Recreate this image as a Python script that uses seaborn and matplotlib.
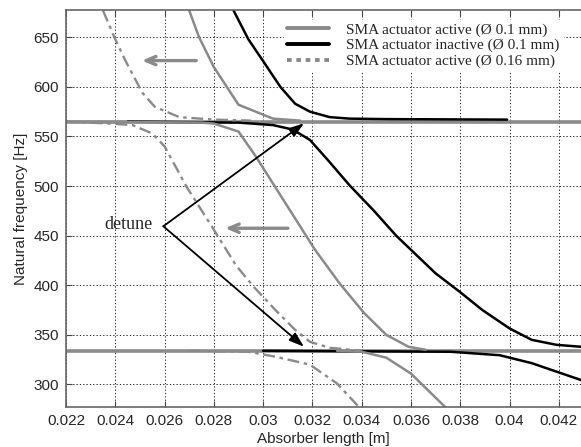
import numpy as np
import pandas as pd
import matplotlib
matplotlib.use("Agg")
import matplotlib.pyplot as plt
import seaborn as sns
from matplotlib.lines import Line2D

# absorber length [m] / natural frequency [Hz]
host_freqs = [565, 334]
host_len = [0.022, 0.0429]

# SMA actuator active, wire 0.1 mm (gray solid)
act_up_x = [0.0270, 0.0274, 0.0280, 0.0290, 0.0304, 0.0315]
act_up_y = [677, 650, 620, 582, 568, 566]
act_mid_x = [0.0220, 0.0275, 0.0280, 0.0290, 0.0297, 0.0321, 0.0331, 0.0341, 0.0350, 0.0359, 0.0366]
act_mid_y = [565, 564, 563, 555, 530, 436, 402, 372, 350, 338, 335]
act_low_x = [0.0330, 0.0340, 0.0350, 0.0360, 0.0374]
act_low_y = [334, 333, 327, 311, 277]

# SMA actuator inactive, wire 0.1 mm (black)
inact_up_x = [0.0288, 0.0294, 0.0300, 0.0307, 0.0313, 0.0319, 0.0327, 0.0335, 0.0350, 0.0399]
inact_up_y = [677, 648, 626, 600, 583, 575, 569.5, 568, 567.5, 567]
inact_mid_x = [0.0245, 0.0290, 0.0304, 0.0312, 0.0319, 0.0326, 0.0335, 0.0345, 0.0354, 0.0370,
               0.0380, 0.0389, 0.0400, 0.0409, 0.0419, 0.0429]
inact_mid_y = [565, 564, 561.5, 557, 546.5, 527, 501, 475, 450, 412, 393, 375, 356.5, 345, 340, 338]
inact_low_x = [0.0300, 0.0376, 0.0396, 0.0409, 0.0419, 0.0429]
inact_low_y = [334, 333, 329.5, 321.5, 313, 304.5]

# SMA actuator active, wire 0.16 mm (gray dash-dot)
thick_up_x = [0.0235, 0.0240, 0.0244, 0.0251, 0.0256, 0.0266, 0.0280, 0.0295]
thick_up_y = [677, 648, 627, 594, 580, 569.5, 567, 566]
thick_mid_x = [0.0220, 0.0238, 0.0247, 0.0255, 0.0260, 0.0269, 0.0279, 0.0289, 0.0296, 0.0305,
               0.0313, 0.0319, 0.0327, 0.0340]
thick_mid_y = [565, 563, 561.5, 553, 540, 499, 460, 420, 399, 375, 355, 343, 337, 334]
thick_low_x = [0.0270, 0.0294, 0.0305, 0.0319, 0.0330, 0.0339]
thick_low_y = [334, 333, 328, 320, 301, 277]

xticks = [0.022, 0.024, 0.026, 0.028, 0.03, 0.032, 0.034, 0.036, 0.038, 0.04, 0.042]
xtick_labels = ["0.022", "0.024", "0.026", "0.028", "0.03", "0.032", "0.034", "0.036", "0.038", "0.04", "0.042"]
yticks = [300, 350, 400, 450, 500, 550, 600, 650]

legend_labels = ["SMA actuator active (\u00d8 0.1 mm)",
                 "SMA actuator inactive (\u00d8 0.1 mm)",
                 "SMA actuator active (\u00d8 0.16 mm)"]

gray = "#8a8a8a"

sns.set_style("white")
plt.rcParams["font.family"] = ["Liberation Sans", "DejaVu Sans"]

fig = plt.figure(figsize=(5.81, 4.47), dpi=100)
ax = fig.add_axes([66 / 581, 40 / 447, 515 / 581, 397 / 447])

def branch(x, y, **kw):
    sns.lineplot(x=x, y=y, ax=ax, sort=False, estimator=None, legend=False, **kw)

for f in host_freqs:
    branch(host_len, [f, f], color=gray, lw=2.6)

branch(inact_up_x, inact_up_y, color="black", lw=1.8)
branch(inact_mid_x, inact_mid_y, color="black", lw=1.8)
branch(inact_low_x, inact_low_y, color="black", lw=1.8)

branch(act_up_x, act_up_y, color=gray, lw=1.8)
branch(act_mid_x, act_mid_y, color=gray, lw=1.8)
branch(act_low_x, act_low_y, color=gray, lw=1.8)

for xs, ys in [(thick_up_x, thick_up_y), (thick_mid_x, thick_mid_y), (thick_low_x, thick_low_y)]:
    branch(xs, ys, color=gray, lw=1.7, linestyle=(0, (5, 2, 1.5, 2)))

# arrows
ax.annotate("", xy=(0.02497, 626.5), xytext=(0.0274, 626.5),
            arrowprops=dict(arrowstyle="->,head_length=0.7,head_width=0.3", color=gray, lw=2.4))
ax.annotate("", xy=(0.02835, 457.5), xytext=(0.03112, 457.5),
            arrowprops=dict(arrowstyle="->,head_length=0.7,head_width=0.3", color=gray, lw=2.4))
apex = (0.02595, 459.5)
ax.annotate("", xy=(0.03166, 563.3), xytext=apex,
            arrowprops=dict(arrowstyle="-|>,head_length=0.9,head_width=0.3", color="black", lw=1.3,
                            shrinkA=0, shrinkB=0))
ax.annotate("", xy=(0.03166, 338), xytext=apex,
            arrowprops=dict(arrowstyle="-|>,head_length=0.9,head_width=0.3", color="black", lw=1.3,
                            shrinkA=0, shrinkB=0))
ax.text(0.02452, 461, "detune", ha="center", va="center", fontsize=13,
        family=["Liberation Serif", "DejaVu Serif"])

ax.set_xlim(0.022, 0.0429)
ax.set_ylim(277.3, 677.5)
ax.set_xticks(xticks)
ax.set_xticklabels(xtick_labels)
ax.set_yticks(yticks)
ax.grid(True, color="black", linestyle=(0, (1.5, 2.5)), lw=0.6)
ax.tick_params(direction="in", length=4, labelsize=11, top=True, left=True, bottom=True,
               right=False, color="#444444", pad=5)
for s in ["left", "bottom", "top"]:
    ax.spines[s].set_color("#666666")
    ax.spines[s].set_linewidth(1.2)
ax.spines["right"].set_visible(False)
ax.set_xlabel("Absorber length [m]", fontsize=11, labelpad=3)
ax.set_ylabel("Natural frequency [Hz]", fontsize=11, labelpad=4)

handles = [Line2D([], [], color=gray, lw=2.8),
           Line2D([], [], color="black", lw=2.8),
           Line2D([], [], color=gray, lw=2.8, linestyle=(0, (1.2, 1.2)))]
leg = ax.legend(handles, legend_labels, loc="upper left", bbox_to_anchor=(276 / 581, 1 - 12 / 447),
                bbox_transform=fig.transFigure, frameon=True, fancybox=False, framealpha=1,
                facecolor="white", edgecolor="white", handlelength=2.8, handletextpad=1.1,
                labelspacing=0.13, borderpad=0.2, prop={"family": "Liberation Serif", "size": 11})

fig.savefig("out.png", dpi=100)
